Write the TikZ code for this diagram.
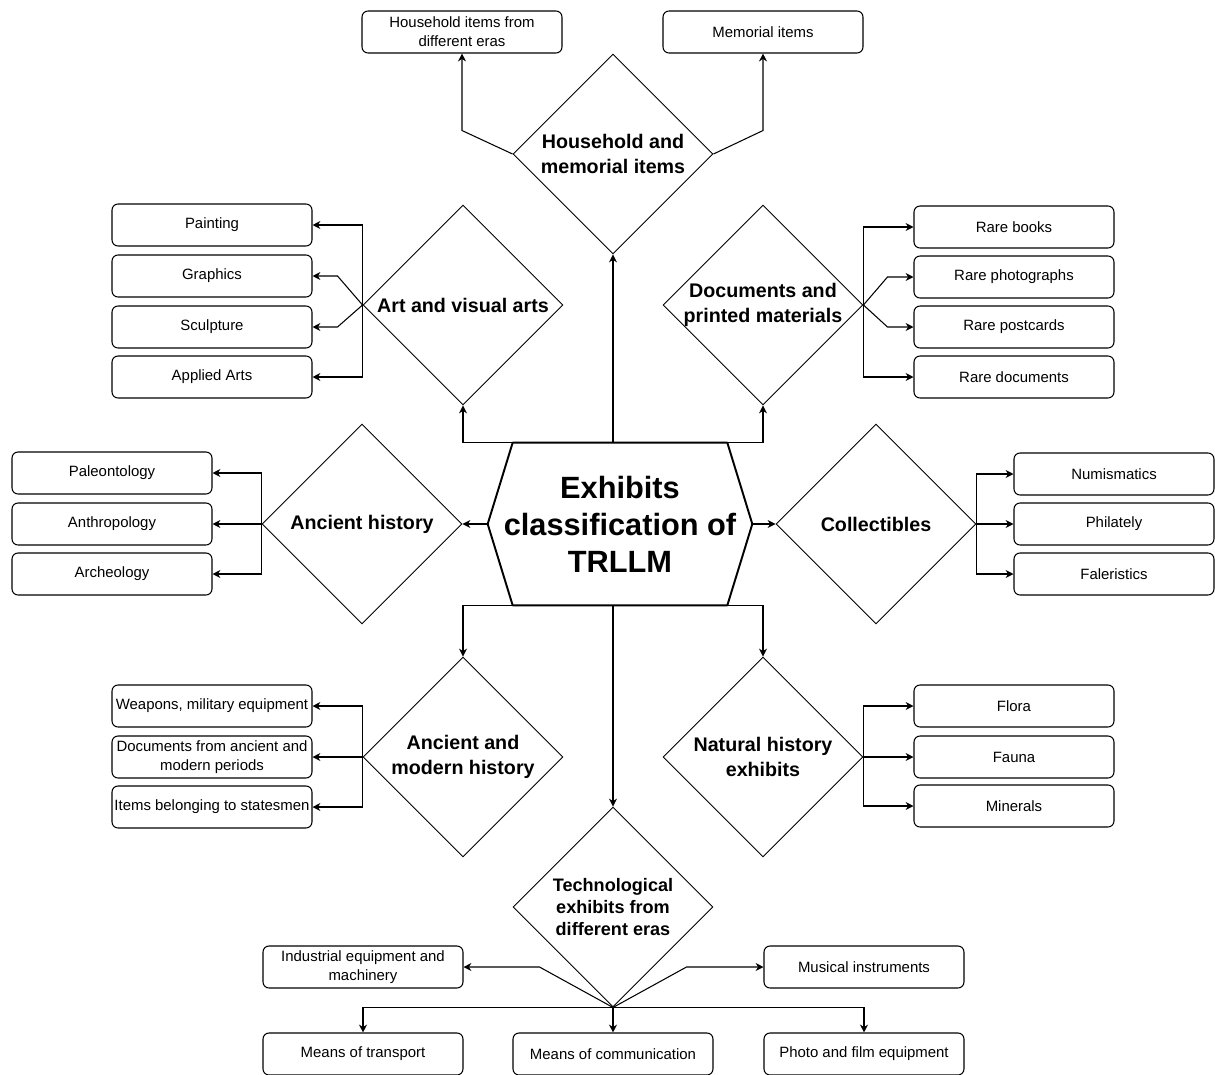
\documentclass[tikz,border=0pt]{standalone}
\usepackage{fontspec}
\setmainfont{Liberation Sans}
\usetikzlibrary{shapes.geometric,arrows.meta,calc}
\begin{document}
\begin{tikzpicture}[x=0.02cm,y=-0.02cm,
  box/.style={draw, rounded corners=0.12cm, minimum width=4cm, minimum height=0.84cm, inner sep=1pt, align=center, font=\fontsize{8.5}{10.8}\selectfont, line width=0.6pt},
  dia/.style={draw, diamond, aspect=1, minimum width=4cm, minimum height=4cm, inner sep=0pt, line width=0.55pt},
  dlab/.style={align=center, font=\bfseries\fontsize{11.2}{14.2}\selectfont, inner sep=0pt},
  tlab/.style={align=center, font=\bfseries\fontsize{10.3}{12.5}\selectfont, inner sep=0pt},
  arr/.style={-{Stealth[length=4.5pt,width=4.5pt]}, line width=0.6pt},
  hexline/.style={line width=1.1pt, line join=round}]
\useasboundingbox (0,0) rectangle (1215,1075);

% ---- Household and memorial items
\node[box] (hhL) at (462,32) {Household items from\\different eras};
\node[box] (mem) at (763,32) {Memorial items};
\node[dia] (hh) at (613,154) {};
\node[dlab] (hhT) at (613,154) {Household and\\memorial items};

% ---- Art
\node[dia] (art) at (463,305) {};
\node[dlab] (artT) at (463,305) {Art and visual arts};
\node[box] (paint) at (212,225) {Painting};
\node[box] (graph) at (212,276) {Graphics};
\node[box] (sculp) at (212,327) {Sculpture};
\node[box] (appl) at (212,377) {Applied Arts};

% ---- Documents
\node[dia] (doc) at (763,305) {};
\node[dlab] (docT) at (763,305) {Documents and\\printed materials};
\node[box] (books) at (1014,227) {Rare books};
\node[box] (photos) at (1014,277) {Rare photographs};
\node[box] (cards) at (1014,327) {Rare postcards};
\node[box] (rdocs) at (1014,377) {Rare documents};

% ---- Center
\node[minimum width=5.28cm, minimum height=3.24cm, inner sep=0pt, align=center,
      font=\bfseries\fontsize{17.5}{21}\selectfont] (c) at (620,524) {Exhibits\\classification of\\TRLLM};
\draw[hexline] (c.west) -- ($(c.north west)+(25,0)$) -- ($(c.north east)+(-25,0)$) -- (c.east)
  -- ($(c.south east)+(-25,0)$) -- ($(c.south west)+(25,0)$) -- cycle;

% ---- Ancient history
\node[dia] (anc) at (362,524) {};
\node[dlab] (ancT) at (362,524) {Ancient history};
\node[box] (paleo) at (112,473) {Paleontology};
\node[box] (anth) at (112,524) {Anthropology};
\node[box] (arch) at (112,574) {Archeology};

% ---- Collectibles
\node[dia] (col) at (876,524) {};
\node[dlab] (colT) at (876,524) {Collectibles};
\node[box] (num) at (1114,474) {Numismatics};
\node[box] (phil) at (1114,524) {Philately};
\node[box] (fal) at (1114,574) {Faleristics};

% ---- Ancient and modern history
\node[dia] (am) at (463,757) {};
\node[dlab] (amT) at (463,757) {Ancient and\\modern history};
\node[box] (weap) at (212,706) {Weapons, military equipment};
\node[box] (adocs) at (212,757) {Documents from ancient and\\modern periods};
\node[box] (items) at (212,807) {Items belonging to statesmen};

% ---- Natural history
\node[dia] (nat) at (763,757) {};
\node[dlab] (natT) at (763,757) {Natural history\\exhibits};
\node[box] (flora) at (1014,706) {Flora};
\node[box] (fauna) at (1014,757) {Fauna};
\node[box] (mins) at (1014,806) {Minerals};

% ---- Technological
\node[dia] (tech) at (613,907) {};
\node[tlab] (techT) at (613,907) {Technological\\exhibits from\\different eras};
\node[box] (ind) at (363,967) {Industrial equipment and\\machinery};
\node[box] (mus) at (864,967) {Musical instruments};
\node[box] (trans) at (363,1054) {Means of transport};
\node[box] (comm) at (613,1054) {Means of communication};
\node[box] (photo) at (864,1054) {Photo and film equipment};

% ---- Connectors: center
\draw[arr] (hh.south |- c.north) -- (hh.south);
\draw[arr] (hh.south |- c.north) -| (art.south);
\draw[arr] (hh.south |- c.north) -| (doc.south);
\draw[arr] (c.west) -- (anc.east);
\draw[arr] (c.east) -- (col.west);
\draw[arr] (tech.north |- c.south) -- (tech.north);
\draw[arr] (tech.north |- c.south) -| (am.north);
\draw[arr] (tech.north |- c.south) -| (nat.north);

% ---- Household
\draw[arr] (hh.west) -- ($(hhL.south)+(0,77)$) -- (hhL.south);
\draw[arr] (hh.east) -- ($(mem.south)+(0,77)$) -- (mem.south);

% ---- Art
\draw[arr] (art.west) |- (paint.east);
\draw[arr] (art.west) -- ($(graph.east)+(25,0)$) -- (graph.east);
\draw[arr] (art.west) -- ($(sculp.east)+(25,0)$) -- (sculp.east);
\draw[arr] (art.west) |- (appl.east);

% ---- Documents
\draw[arr] (doc.east) |- (books.west);
\draw[arr] (doc.east) -- ($(photos.west)+(-26,0)$) -- (photos.west);
\draw[arr] (doc.east) -- ($(cards.west)+(-26,0)$) -- (cards.west);
\draw[arr] (doc.east) |- (rdocs.west);

% ---- Ancient history
\draw[arr] (anc.west) |- (paleo.east);
\draw[arr] (anc.west) -- (anth.east);
\draw[arr] (anc.west) |- (arch.east);

% ---- Collectibles
\draw[arr] (col.east) |- (num.west);
\draw[arr] (col.east) -- (phil.west);
\draw[arr] (col.east) |- (fal.west);

% ---- Ancient and modern
\draw[arr] (am.west) |- (weap.east);
\draw[arr] (am.west) -- (adocs.east);
\draw[arr] (am.west) |- (items.east);

% ---- Natural history
\draw[arr] (nat.east) |- (flora.west);
\draw[arr] (nat.east) -- (fauna.west);
\draw[arr] (nat.east) |- (mins.west);

% ---- Technological
\draw[arr] (tech.south) -- ($(ind.east)+(76,0)$) -- (ind.east);
\draw[arr] (tech.south) -- ($(mus.west)+(-77,0)$) -- (mus.west);
\draw[arr] (tech.south) -| (trans.north);
\draw[arr] (tech.south) -- (comm.north);
\draw[arr] (tech.south) -| (photo.north);
\end{tikzpicture}
\end{document}
